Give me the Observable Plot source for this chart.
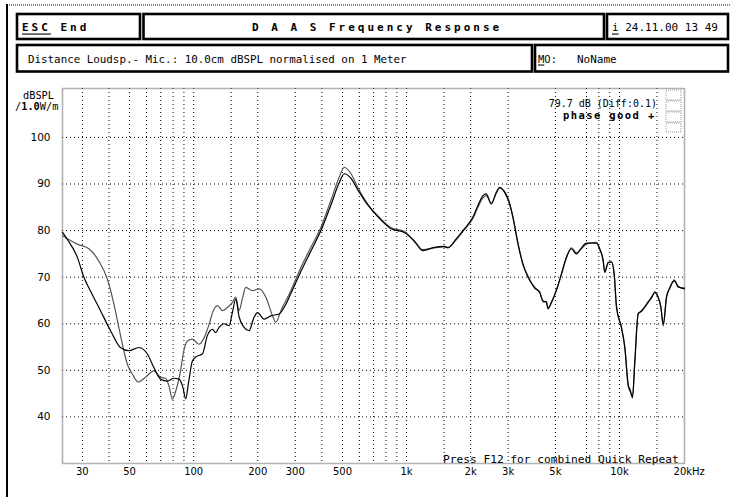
<!DOCTYPE html>
<html><head><meta charset="utf-8">
<script src="https://cdn.jsdelivr.net/npm/d3@7"></script>
<script src="https://cdn.jsdelivr.net/npm/@observablehq/plot@0.6"></script>
<style>
body{margin:0;background:#fff;}
svg{display:block}
</style></head><body><div id="chart"></div>
<script>
// Curve A (darker) low/mid frequency part
const lowFreqA = [24.2, 25.4, 28.4, 30.5, 32.7, 36.5, 40.7, 45.3, 49.6, 55.3, 60.6, 65.0, 69.9, 75.2, 80.8, 85.3, 88.8, 91.7, 94.7, 98.6, 103.3, 109.9, 116.0, 122.5, 126.9, 131.5, 138.9, 146.6, 152.1, 157.6, 163.4, 172.5, 182.0, 192.2, 199.4, 214.2, 230.3, 252.0, 268.1, 286.1, 318.8, 355.3, 396.0, 441.3, 482.8, 509.7, 548.1, 589.3, 656.9, 732.0];
const lowDbA = [79.6, 78.2, 74.3, 70.0, 67.1, 62.8, 58.5, 54.9, 54.2, 54.9, 53.5, 50.6, 48.1, 47.7, 48.3, 48.1, 46.5, 43.9, 47.5, 52, 53, 53.5, 57.5, 58.8, 58.1, 59.2, 60, 59.6, 62.5, 65.3, 61.5, 59.2, 58.5, 61.4, 62.4, 61, 61.7, 62.1, 63.8, 66.5, 71.2, 75.6, 80, 85.5, 90.3, 92.2, 91.2, 88.8, 85.5, 83.0];
// Curve B (grey) low/mid frequency part
const lowFreqB = [24.2, 25.4, 28.4, 32.2, 35.8, 39.3, 42.2, 44.5, 47.0, 48.8, 51.5, 54.9, 59.4, 65.0, 69.9, 73.8, 76.7, 79.4, 82.3, 86.8, 89.7, 93.4, 98.6, 105.9, 111.4, 118.0, 122.9, 129.3, 136.5, 144.1, 152.1, 157.6, 163.4, 169.5, 175.7, 188.9, 203.0, 218.3, 234.6, 243.1, 256.7, 286.1, 318.8, 355.3, 396.0, 441.3, 482.8, 509.7, 548.1, 589.3, 656.9, 732.0];
const lowDbB = [78.9, 78.3, 77.1, 76.1, 73.5, 69.6, 64.2, 59.2, 54.2, 51.3, 49.2, 47.5, 48.5, 49.9, 48.5, 48.3, 46.5, 43.8, 45.5, 50, 54, 56.3, 56.7, 55.6, 56.8, 59.8, 62.5, 63.9, 62.8, 63.5, 64.6, 65.7, 62.8, 65.5, 67.8, 67.1, 67.5, 65.7, 61.7, 60.3, 62.8, 67.1, 72.1, 76.4, 80.7, 86.5, 91.5, 93.6, 92.2, 89.3, 85.7, 83.2];
// High frequency part (both curves nearly coincide)
const tailFreq = [845.6, 976, 1088, 1192, 1351, 1506, 1563, 1710, 1871, 2049, 2163, 2284, 2367, 2499, 2638, 2734, 2886, 3047, 3161, 3337, 3523, 3720, 3995, 4217, 4374, 4535, 4619, 4786, 5052, 5335, 5632, 5945, 6276, 6627, 6995, 7796, 8077, 8380, 8526, 8846, 9171, 9444, 9682, 10219, 10590, 10987, 11265, 11512, 11803, 12244, 12689, 13648, 14144, 14658, 15207, 15643, 16052, 16639, 17244, 18089, 18889, 20200];
const tailDbA = [80.4, 79.6, 77.8, 75.7, 76.4, 76.6, 76.3, 78.2, 80.4, 82.9, 85.4, 87.5, 87.9, 85.7, 88.2, 89.3, 88.2, 85.7, 82.9, 77.1, 72.8, 70, 67.8, 66.7, 64.9, 64.6, 63.2, 64.6, 67.1, 70.7, 74.3, 76.1, 75, 76.3, 77.3, 77.3, 76.1, 73.5, 71, 73.2, 73.2, 70.7, 63.5, 59.2, 54.9, 47, 45.6, 44.1, 52, 62.1, 62.8, 64.6, 65.7, 66.7, 65.7, 63.5, 59.9, 65.7, 67.8, 69.2, 68, 67.5];
const tailDbB = [80.6, 79.8, 77.6, 75.9, 76.3, 76.5, 76.4, 78.0, 80.2, 82.6, 85.0, 87.0, 87.5, 85.9, 88.0, 89.1, 88.4, 85.9, 82.7, 77.3, 72.6, 70.2, 67.6, 66.9, 64.7, 64.8, 63.4, 64.4, 67.3, 70.5, 74.1, 76.3, 75.2, 76.1, 77.1, 77.5, 75.9, 73.7, 71.2, 73.0, 73.4, 70.5, 63.7, 59.0, 55.1, 46.6, 45.2, 44.5, 51.6, 62.3, 62.6, 64.8, 65.5, 66.9, 65.5, 63.7, 59.5, 65.9, 67.6, 69.4, 67.8, 67.7];

const gridFreqs = [30, 40, 50, 60, 70, 80, 90, 100, 150, 200, 300, 400, 500, 600, 700, 800, 900, 1000, 1500, 2000, 3000, 5000, 7000, 8000, 9000, 10000, 15000];
const gridDb = [40, 50, 60, 70, 80, 90, 100];
const xTickValues = [30, 50, 100, 200, 300, 500, 1000, 2000, 3000, 5000, 10000];
const xTickLabels = ["30", "50", "100", "200", "300", "500", "1k", "2k", "3k", "5k", "10k"];
const xLastTick = [20000];
const xLastLabel = ["20kHz"];
const yTickValues = [40, 50, 60, 70, 80, 90, 100];

const curveA = lowFreqA.map((f, i) => ({f, db: lowDbA[i]}))
  .concat(tailFreq.map((f, i) => ({f, db: tailDbA[i]})));
const curveB = lowFreqB.map((f, i) => ({f, db: lowDbB[i]}))
  .concat(tailFreq.map((f, i) => ({f, db: tailDbB[i]})));

const mono = "'DejaVu Sans Mono', 'Liberation Mono', monospace";

const plot = Plot.plot({
  width: 730,
  height: 497,
  marginLeft: 62,
  marginRight: 46,
  marginTop: 88,
  marginBottom: 34,
  x: {type: "log", domain: [24.2, 20200], axis: null},
  y: {domain: [30, 110.5], axis: null},
  style: {fontFamily: mono, fontSize: "10.5px", background: "#fff", color: "#000"},
  marks: [
    Plot.ruleX(gridFreqs, {x: d => d, stroke: "#000", strokeWidth: 1, strokeDasharray: "1,3"}),
    Plot.ruleY(gridDb, {y: d => d, stroke: "#000", strokeWidth: 1, strokeDasharray: "1,3"}),
    Plot.frame({stroke: "#666", strokeWidth: 1.6, strokeDasharray: "1,1"}),
    Plot.line(curveB, {x: "f", y: "db", stroke: "#555", strokeWidth: 1.2, curve: "monotone-x"}),
    Plot.line(curveA, {x: "f", y: "db", stroke: "#000", strokeWidth: 1.2, curve: "monotone-x"}),
    Plot.text(xTickValues, {x: d => d, text: xTickLabels, frameAnchor: "bottom", dy: 11, fontFamily: "DejaVu Sans", fontSize: 10, fill: "#000"}),
    Plot.text(xLastTick, {x: d => d, text: xLastLabel, frameAnchor: "bottom", dy: 11, dx: -10, textAnchor: "start", fontFamily: "DejaVu Sans", fontSize: 10, fill: "#000"}),
    Plot.text(yTickValues, {y: d => d, text: d => String(d), frameAnchor: "left", dx: -12, textAnchor: "end", fontFamily: "DejaVu Sans", fontSize: 10.5, fill: "#000"})
  ]
});

document.getElementById("chart").appendChild(plot);

const svg = d3.select(plot);
const g = svg.append("g");

// outer screen border
g.append("line").attr("x1", 7).attr("x2", 730).attr("y1", 5).attr("y2", 5)
  .attr("stroke", "#666").attr("stroke-width", 1.5).attr("stroke-dasharray", "1,1");
g.append("line").attr("x1", 7).attr("x2", 7).attr("y1", 4).attr("y2", 497)
  .attr("stroke", "#000").attr("stroke-width", 2);

// header boxes
const boxes = [[17, 14, 140, 39], [143.5, 14, 604, 39], [607, 14, 728, 39], [17, 45, 532, 71.5], [535, 45, 728, 71.5]];
boxes.forEach(([x0, y0, x1, y1]) => {
  g.append("rect").attr("x", x0).attr("y", y0).attr("width", x1 - x0).attr("height", y1 - y0)
    .attr("fill", "none").attr("stroke", "#000").attr("stroke-width", 2.6);
});

function txt(x, y, opts) {
  const t = g.append("text").attr("x", x).attr("y", y)
    .attr("font-family", mono).attr("font-size", opts.size || 11)
    .attr("font-weight", opts.bold ? "bold" : "normal")
    .attr("dominant-baseline", "central")
    .attr("text-anchor", opts.anchor || "start")
    .attr("fill", "#000")
    .style("white-space", "pre");
  if (opts.ls) t.attr("letter-spacing", opts.ls);
  (opts.parts || [[opts.text, {}]]).forEach(([s, o]) => {
    const ts = t.append("tspan").text(s);
    if (o.u) ts.attr("text-decoration", "underline");
    if (o.b) ts.attr("font-weight", "bold");
  });
  return t;
}

txt(22, 26.5, {bold: true, size: 11, ls: 3.0, parts: [["ESC", {u: true}], [" End", {}]]});
txt(252, 26.5, {bold: true, size: 11, ls: 3.0, text: "D A A S Frequency Response"});
txt(612, 26.5, {size: 11, parts: [["i", {u: true}], [" 24.11.00 13 49", {}]]});
txt(28, 58.5, {size: 10.85, text: "Distance Loudsp.- Mic.: 10.0cm dBSPL normalised on 1 Meter"});
txt(538, 58.5, {size: 10.5, parts: [["M", {u: true}], ["O:", {}]]});
txt(577, 58.5, {size: 11, text: "NoName"});

// y unit label
txt(54, 95, {size: 10.3, anchor: "end", text: "dBSPL"});
txt(15, 105.5, {size: 10.3, parts: [["/", {}], ["1.0", {b: true}], ["W/m", {}]]});

// annotations inside plot
txt(657, 103, {size: 10, anchor: "end", text: "79.7 dB (Diff:0.1)"});
txt(563, 114.5, {size: 10.5, bold: true, ls: 1.4, text: "phase good +"});
txt(443, 458.5, {size: 11.2, text: "Press F12 for combined Quick Repeat"});

// small dotted indicator boxes top right
[[90, 100], [101, 111], [112, 122], [123, 132]].forEach(([y0, y1]) => {
  g.append("rect").attr("x", 666).attr("y", y0).attr("width", 15).attr("height", y1 - y0)
    .attr("fill", "none").attr("stroke", "#999").attr("stroke-width", 1).attr("stroke-dasharray", "1,1");
});
</script>
</body></html>
